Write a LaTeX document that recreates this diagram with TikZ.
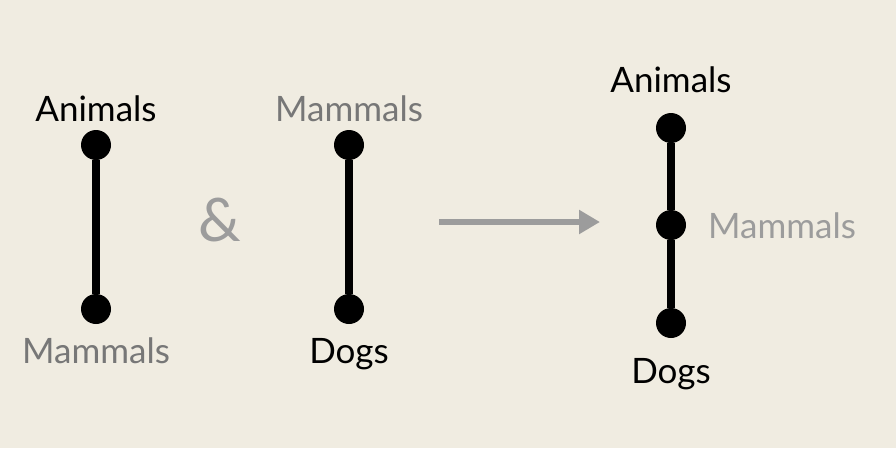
\documentclass[tikz,border=0pt]{standalone}
\usepackage{fontspec}
\setmainfont{Lato}
\usepackage{tikz}
\usetikzlibrary{arrows.meta}
\usetikzlibrary{positioning}

\definecolor{paper}{HTML}{F0ECE1}
\definecolor{darkgray}{HTML}{777777}
\definecolor{lightgray}{HTML}{9C9C9C}

\tikzset{
    dot/.style={circle,fill=black,inner sep=0pt,minimum size=30pt},
    word/.style={anchor=base,inner sep=0pt,font=\fontsize{35}{42}\selectfont},
    edge/.style={line width=8pt},
}

\begin{document}
\begin{tikzpicture}[x=1pt,y=-1pt]
            \fill[paper] (0,0) rectangle (896,448);
            \useasboundingbox (0,0) rectangle (896,448);

            % first pair
            \node [dot](A1) at (96,145){};
            \node [dot](M1) at (96,309){};
            \draw[edge] (A1) -- (M1);
            \node [word,text=black](tA1) at (96,121){Animals};
            \node [word,text=darkgray](tM1) at (96,363){Mammals};

            \node [anchor=center,text=lightgray,font=\fontsize{60}{70}\selectfont](amp) at (220,220){\&};

            % second pair
            \node [dot](M2) at (349,145){};
            \node [dot](D2) at (349,309){};
            \draw[edge] (M2) -- (D2);
            \node [word,text=darkgray](tM2) at (349,121){Mammals};
            \node [word,text=black](tD2) at (349,363){Dogs};

            % arrow
            \coordinate (from) at (439,222);
            \coordinate (to) at (600,222);
            \draw[lightgray,line width=5.5pt,-{Triangle[length=21pt,width=23pt]}] (from) -- (to);

            % result
            \node [dot](A3) at (671,128){};
            \node [dot](M3) at (671,225){};
            \node [dot](D3) at (671,323){};
            \draw[edge] (A3) -- (M3) (M3) -- (D3);
            \node [word,text=black](tA3) at (671,92){Animals};
            \node [word,text=black](tD3) at (671,383){Dogs};
            \node [word,anchor=base west,text=lightgray](tM3) at (708,238){Mammals};
\end{tikzpicture}
\end{document}
